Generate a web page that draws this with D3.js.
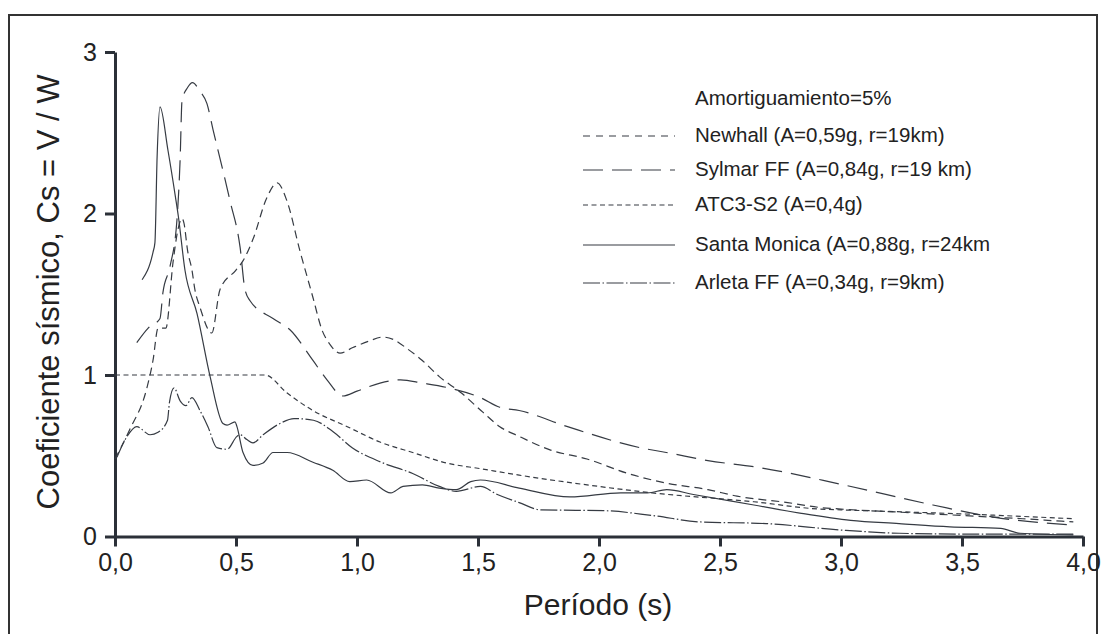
<!DOCTYPE html>
<html>
<head>
<meta charset="utf-8">
<script src="https://cdn.jsdelivr.net/npm/d3@7"></script>
<style>
  body { margin: 0; background: #fff; }
  svg { display: block; font-family: "Liberation Sans", Arial, sans-serif; }
</style>
</head>
<body>
<svg id="chart" width="1104" height="634"></svg>
<script>
// Periods (s) and seismic coefficients
const newhallT  = [0, 0.06, 0.13, 0.157, 0.178, 0.21, 0.24, 0.26, 0.277, 0.285, 0.30, 0.318, 0.33, 0.351, 0.40, 0.434, 0.50, 0.53, 0.57, 0.628, 0.67, 0.71, 0.764, 0.818, 0.855, 0.888, 0.93, 0.983, 1.05, 1.107, 1.15, 1.21, 1.27, 1.34, 1.43, 1.52, 1.59, 1.67, 1.80, 1.95, 2.12, 2.28, 2.45, 2.57, 2.78, 2.91, 3.0, 3.25, 3.5, 3.75, 3.96];
const newhallCs = [0.48, 0.66, 0.91, 1.09, 1.29, 1.29, 1.70, 1.90, 1.97, 1.94, 1.77, 1.65, 1.53, 1.42, 1.26, 1.53, 1.65, 1.71, 1.84, 2.10, 2.19, 2.08, 1.77, 1.48, 1.28, 1.19, 1.135, 1.17, 1.21, 1.235, 1.22, 1.16, 1.09, 0.99, 0.89, 0.77, 0.68, 0.62, 0.535, 0.48, 0.39, 0.33, 0.29, 0.25, 0.21, 0.18, 0.17, 0.15, 0.13, 0.11, 0.09];

const sylmarT  = [0.09, 0.137, 0.186, 0.198, 0.227, 0.256, 0.269, 0.277, 0.30, 0.32, 0.35, 0.38, 0.405, 0.475, 0.517, 0.537, 0.558, 0.653, 0.723, 0.818, 0.876, 0.942, 1.0, 1.095, 1.18, 1.27, 1.38, 1.51, 1.59, 1.67, 1.87, 2.17, 2.29, 2.45, 2.65, 3.01, 3.38, 3.63, 3.96];
const sylmarCs = [1.20, 1.29, 1.35, 1.51, 1.67, 1.96, 2.33, 2.70, 2.78, 2.81, 2.76, 2.68, 2.52, 2.08, 1.79, 1.53, 1.46, 1.35, 1.28, 1.09, 0.97, 0.87, 0.90, 0.95, 0.97, 0.95, 0.92, 0.86, 0.80, 0.78, 0.68, 0.55, 0.517, 0.47, 0.43, 0.32, 0.195, 0.12, 0.07];

const atcT  = [0, 0.62, 0.71, 0.818, 0.96, 1.095, 1.23, 1.37, 1.51, 1.67, 2.0, 2.22, 2.64, 2.91, 3.0, 3.5, 3.96];
const atcCs = [1.0, 1.0, 0.89, 0.78, 0.68, 0.585, 0.52, 0.455, 0.42, 0.38, 0.31, 0.27, 0.215, 0.17, 0.165, 0.14, 0.11];

const monicaT  = [0.112, 0.157, 0.165, 0.174, 0.186, 0.219, 0.25, 0.262, 0.289, 0.339, 0.393, 0.446, 0.463, 0.496, 0.504, 0.529, 0.57, 0.612, 0.653, 0.711, 0.818, 0.90, 0.97, 1.04, 1.14, 1.19, 1.27, 1.34, 1.41, 1.47, 1.51, 1.67, 1.88, 2.09, 2.20, 2.28, 2.39, 2.64, 2.83, 3.04, 3.24, 3.45, 3.66, 3.74, 3.96];
const monicaCs = [1.59, 1.76, 1.82, 2.35, 2.66, 2.39, 2.10, 1.98, 1.65, 1.38, 0.99, 0.70, 0.69, 0.71, 0.68, 0.52, 0.44, 0.455, 0.52, 0.52, 0.46, 0.41, 0.34, 0.35, 0.27, 0.31, 0.32, 0.30, 0.29, 0.34, 0.35, 0.30, 0.245, 0.27, 0.27, 0.29, 0.26, 0.195, 0.145, 0.10, 0.08, 0.06, 0.05, 0.02, 0.01];

const arletaT  = [0.008, 0.05, 0.09, 0.145, 0.178, 0.217, 0.225, 0.244, 0.269, 0.293, 0.318, 0.351, 0.384, 0.421, 0.463, 0.504, 0.517, 0.545, 0.57, 0.612, 0.682, 0.74, 0.82, 0.90, 0.98, 1.10, 1.23, 1.34, 1.41, 1.51, 1.58, 1.67, 1.76, 2.02, 2.22, 2.42, 2.69, 3.0, 3.24, 3.52, 3.96];
const arletaCs = [0.49, 0.62, 0.68, 0.63, 0.645, 0.72, 0.83, 0.92, 0.84, 0.81, 0.86, 0.78, 0.68, 0.55, 0.54, 0.62, 0.63, 0.60, 0.58, 0.63, 0.70, 0.73, 0.72, 0.65, 0.55, 0.46, 0.39, 0.31, 0.28, 0.31, 0.26, 0.21, 0.165, 0.16, 0.13, 0.09, 0.08, 0.04, 0.02, 0.015, 0.015];

const seriesNames = [
  "Newhall (A=0,59g, r=19km)",
  "Sylmar FF (A=0,84g, r=19 km)",
  "ATC3-S2 (A=0,4g)",
  "Santa Monica (A=0,88g, r=24km",
  "Arleta FF (A=0,34g, r=9km)"
];
const xTicks = [0, 0.5, 1, 1.5, 2, 2.5, 3, 3.5, 4];
const yTicks = [0, 1, 2, 3];

document.addEventListener("DOMContentLoaded", function() {
  const svg = d3.select("#chart");
  const ink = "#2b3038";
  const lineInk = "#363b43";

  // Outer frame (open at the bottom edge of the picture)
  svg.append("rect")
    .attr("x", 9).attr("y", 15)
    .attr("width", 1088).attr("height", 640)
    .attr("fill", "none")
    .attr("stroke", "#333")
    .attr("stroke-width", 2);

  // Scales
  const xScale = d3.scaleLinear().domain([0, 4]).range([115, 1083]);
  const yScale = d3.scaleLinear().domain([0, 3]).range([536.5, 52]);

  // Axes
  const xAxis = d3.axisBottom(xScale)
    .tickValues(xTicks)
    .tickSize(10).tickSizeOuter(0).tickPadding(7)
    .tickFormat(d => d.toFixed(1).replace(".", ","));

  const yAxis = d3.axisLeft(yScale)
    .tickValues(yTicks)
    .tickSize(10).tickSizeOuter(0).tickPadding(8)
    .tickFormat(d3.format("d"));

  const gx = svg.append("g")
    .attr("transform", "translate(0," + yScale(0) + ")")
    .call(xAxis);

  const gy = svg.append("g")
    .attr("transform", "translate(" + xScale(0) + ",0)")
    .call(yAxis);

  [gx, gy].forEach(g => {
    g.select(".domain").attr("stroke", ink).attr("stroke-width", 3);
    g.selectAll(".tick line").attr("stroke", ink).attr("stroke-width", 3);
    g.selectAll(".tick text")
      .attr("fill", "#222")
      .style("font-size", "25px")
      .style("font-family", "'Liberation Sans', Arial, sans-serif");
  });

  // Axis titles
  svg.append("text")
    .attr("x", 598).attr("y", 615)
    .attr("text-anchor", "middle")
    .attr("fill", "#222")
    .style("font-size", "30px")
    .text("Período (s)");

  svg.append("text")
    .attr("transform", "translate(59,292) rotate(-90)")
    .attr("text-anchor", "middle")
    .attr("fill", "#222")
    .style("font-size", "31px")
    .text("Coeficiente sísmico, Cs = V / W");

  // Curves
  const line = d3.line()
    .x(d => xScale(d[0]))
    .y(d => yScale(d[1]))
    .curve(d3.curveMonotoneX);

  const series = [
    { t: newhallT, cs: newhallCs, dash: "8,5" },
    { t: sylmarT, cs: sylmarCs, dash: "20,9" },
    { t: atcT, cs: atcCs, dash: "5,3.5" },
    { t: monicaT, cs: monicaCs, dash: null },
    { t: arletaT, cs: arletaCs, dash: "17,2.5,1.5,2.5" }
  ];

  series.forEach(s => {
    svg.append("path")
      .datum(d3.zip(s.t, s.cs))
      .attr("d", line)
      .attr("fill", "none")
      .attr("stroke", lineInk)
      .attr("stroke-width", 1.2)
      .attr("stroke-dasharray", s.dash);
  });

  // Legend
  svg.append("text")
    .attr("x", 695).attr("y", 105)
    .attr("fill", "#222")
    .style("font-size", "20.5px")
    .text("Amortiguamiento=5%");

  const legendRows = [142, 176, 211, 251, 289];
  const legend = svg.append("g");
  seriesNames.forEach((name, i) => {
    legend.append("line")
      .attr("x1", 583).attr("x2", 675)
      .attr("y1", legendRows[i] - 6).attr("y2", legendRows[i] - 6)
      .attr("stroke", lineInk)
      .attr("stroke-width", 1.2)
      .attr("stroke-dasharray", i === 0 ? "7,6" : series[i].dash);
    legend.append("text")
      .attr("x", 695).attr("y", legendRows[i])
      .attr("fill", "#222")
      .style("font-size", "20.5px")
      .text(name);
  });
});
</script>
</body>
</html>
